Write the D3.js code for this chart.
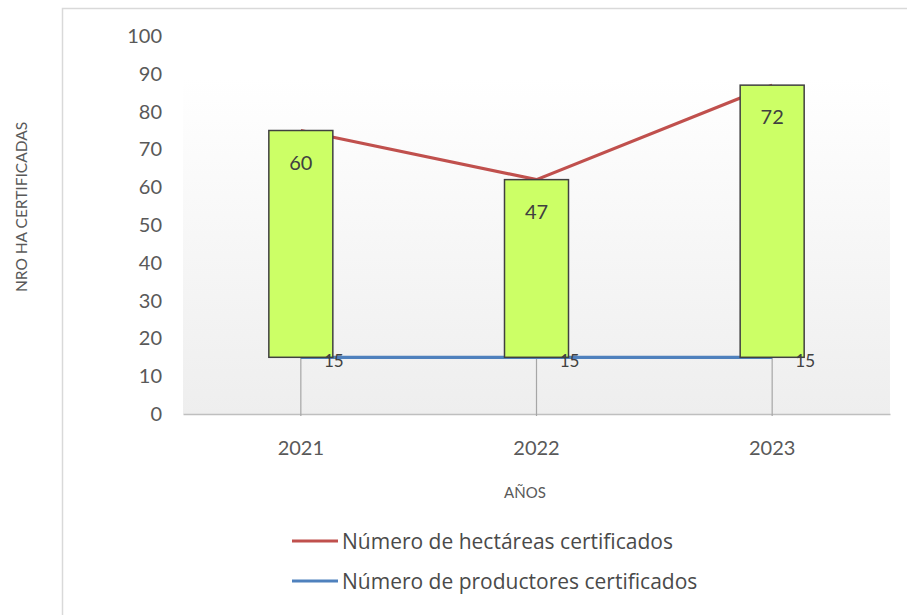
<!DOCTYPE html>
<html><head><meta charset="utf-8">
<script src="https://cdn.jsdelivr.net/npm/d3@7"></script>
<style>html,body{margin:0;padding:0;background:#fff;}svg{display:block;font-family:Lato,"Open Sans",sans-serif;}</style>
</head><body>
<svg id="c" width="907" height="615"></svg>
<script>
const years = ["2021", "2022", "2023"];
const productores = [15, 15, 15];
const hectareas = [60, 47, 72];
const yTicks = [0, 10, 20, 30, 40, 50, 60, 70, 80, 90, 100];
const seriesNames = ["Número de hectáreas certificados", "Número de productores certificados"];
const seriesColors = ["#c0504d", "#4f81bd"];

const svg = d3.select("#c");
const m = {left: 183, right: 890, top: 36, bottom: 414};

// outer frame
svg.append("rect").attr("x", 62.5).attr("y", 8.5).attr("width", 900).attr("height", 700)
  .attr("fill", "#fff").attr("stroke", "#d9d9d9").attr("stroke-width", 1.5);

const x = d3.scaleBand().domain(years).range([m.left, m.right]);
const y = d3.scaleLinear().domain([0, 100]).range([m.bottom, m.top]);

// plot area gradient
const defs = svg.append("defs");
const g = defs.append("linearGradient").attr("id", "pg").attr("x1", 0).attr("y1", 0).attr("x2", 0).attr("y2", 1);
g.append("stop").attr("offset", "0%").attr("stop-color", "#ffffff");
g.append("stop").attr("offset", "100%").attr("stop-color", "#eeeeee");
svg.append("rect").attr("x", m.left).attr("y", y(89)).attr("width", m.right - m.left)
  .attr("height", y(0) - y(89)).attr("fill", "url(#pg)");

// y axis labels
const yAxis = d3.axisLeft(y).tickValues(yTicks).tickSize(0).tickPadding(0);
const ya = svg.append("g").attr("transform", `translate(${m.left - 21},0)`).call(yAxis);
ya.select(".domain").remove();
ya.selectAll("text").attr("fill", "#595959").style("font-size", "20px").style("font-family", "Lato,sans-serif");

// x axis
const xAxis = d3.axisBottom(x).tickSize(0).tickPadding(0);
const xa = svg.append("g").attr("transform", `translate(0,${y(0)})`).call(xAxis);
xa.select(".domain").attr("stroke", "#bfbfbf").attr("stroke-width", 1.5);
xa.selectAll("text").attr("fill", "#595959").attr("y", 27).attr("dy", "0.71em").style("font-size", "20px").style("font-family", "Lato,sans-serif");

const totals = years.map((d, i) => productores[i] + hectareas[i]);
const cx = d => x(d) + x.bandwidth() / 2;

// drop lines
svg.append("g").selectAll("line").data(years).join("line")
  .attr("x1", d => cx(d)).attr("x2", d => cx(d))
  .attr("y1", (d, i) => y(totals[i])).attr("y2", y(0) + 2)
  .attr("stroke", "#a6a6a6").attr("stroke-width", 1.2);

// lines
const line = d3.line().x((d, i) => cx(years[i])).y(d => y(d));
svg.append("path").datum(productores).attr("d", line).attr("fill", "none")
  .attr("stroke", seriesColors[1]).attr("stroke-width", 3.2);
svg.append("path").datum(totals).attr("d", line).attr("fill", "none")
  .attr("stroke", seriesColors[0]).attr("stroke-width", 3.2);

// up bars
const bw = 64;
svg.append("g").selectAll("rect").data(years).join("rect")
  .attr("x", d => cx(d) - bw / 2).attr("width", bw)
  .attr("y", (d, i) => y(totals[i]))
  .attr("height", (d, i) => y(productores[i]) - y(totals[i]))
  .attr("fill", "#ccff66").attr("stroke", "#404040").attr("stroke-width", 1.5);

// labels hectareas
svg.append("g").selectAll("text").data(years).join("text")
  .attr("x", d => cx(d)).attr("y", (d, i) => y(totals[i]) + 31)
  .attr("text-anchor", "middle").attr("dominant-baseline", "central")
  .attr("fill", "#404040").style("font-size", "20px")
  .text((d, i) => hectareas[i]);

// labels productores
svg.append("g").selectAll("text").data(years).join("text")
  .attr("x", d => cx(d) + 33).attr("y", (d, i) => y(productores[i]) + 3)
  .attr("text-anchor", "middle").attr("dominant-baseline", "central")
  .attr("fill", "#404040").style("font-size", "17px")
  .text((d, i) => productores[i]);

// axis titles
svg.append("text").attr("x", 525).attr("y", 498)
  .attr("text-anchor", "middle").attr("fill", "#595959").style("font-size", "15px").text("AÑOS");
svg.append("text").attr("transform", `translate(27,207) rotate(-90)`)
  .attr("text-anchor", "middle").attr("fill", "#595959").style("font-size", "15.5px").text("NRO HA CERTIFICADAS");

// legend
const lg = svg.append("g").selectAll("g").data(seriesNames).join("g")
  .attr("transform", (d, i) => `translate(292,${541 + i * 40})`);
lg.append("line").attr("x1", 0).attr("x2", 46).attr("y1", 0).attr("y2", 0)
  .attr("stroke", (d, i) => seriesColors[i]).attr("stroke-width", 3.2);
lg.append("text").attr("x", 50).attr("y", 0).attr("dominant-baseline", "central")
  .attr("fill", "#4a4a4a").style("font-size", "21px").style("font-family", "'Open Sans',sans-serif").text(d => d);
</script>
</body></html>
